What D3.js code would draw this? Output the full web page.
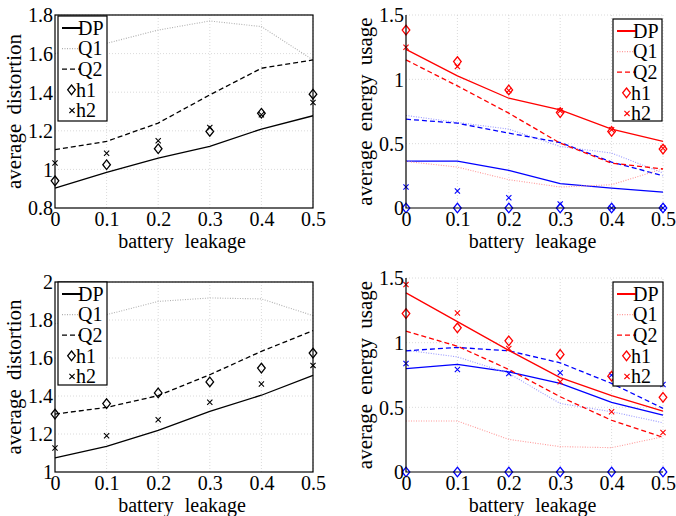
<!DOCTYPE html>
<html><head><meta charset="utf-8">
<script src="https://cdn.jsdelivr.net/npm/d3@7"></script>
<style>body{margin:0;background:#fff}svg{display:block}</style>
</head><body>
<script>
const leakage = [0, 0.1, 0.2, 0.3, 0.4, 0.5];
const xTicks = [0, 0.1, 0.2, 0.3, 0.4, 0.5];
const legendLabels = ["DP", "Q1", "Q2", "h1", "h2"];

// Panel A: average distortion (top)
const distA_DP = [0.903, 0.984, 1.059, 1.119, 1.209, 1.278];
const distA_Q1 = [1.60, 1.653, 1.722, 1.769, 1.740, 1.567];
const distA_Q2 = [1.102, 1.145, 1.240, 1.386, 1.524, 1.567];
const distA_h1 = [0.941, 1.024, 1.107, 1.197, 1.291, 1.390];
const distA_h2 = [1.033, 1.084, 1.148, 1.217, 1.283, 1.347];
const distA_ticks = [0.8, 1, 1.2, 1.4, 1.6, 1.8];

// Panel B: average energy usage (top)
const enB_red_DP = [1.233, 1.027, 0.853, 0.763, 0.613, 0.517];
const enB_red_Q1 = [0.362, 0.318, 0.220, 0.163, 0.181, 0.305];
const enB_red_Q2 = [1.151, 0.949, 0.737, 0.504, 0.349, 0.303];
const enB_red_h1 = [1.383, 1.138, 0.918, 0.742, 0.595, 0.458];
const enB_red_h2 = [1.249, 1.099, 0.913, 0.755, 0.608, 0.465];
const enB_blue_DP = [0.365, 0.365, 0.292, 0.189, 0.155, 0.124];
const enB_blue_Q1 = [0.719, 0.665, 0.613, 0.478, 0.427, 0.272];
const enB_blue_Q2 = [0.690, 0.659, 0.582, 0.509, 0.357, 0.251];
const enB_blue_h1 = [0, 0, 0, 0, 0, 0];
const enB_blue_h2 = [0.163, 0.132, 0.080, 0.031, 0, 0];
const energy_ticks = [0, 0.5, 1, 1.5];

// Panel C: average distortion (bottom)
const distC_DP = [1.074, 1.135, 1.219, 1.319, 1.404, 1.509];
const distC_Q1 = [1.78, 1.828, 1.898, 1.916, 1.911, 1.823];
const distC_Q2 = [1.305, 1.340, 1.402, 1.512, 1.635, 1.744];
const distC_h1 = [1.305, 1.360, 1.416, 1.474, 1.547, 1.626];
const distC_h2 = [1.126, 1.191, 1.275, 1.367, 1.463, 1.561];
const distC_ticks = [1, 1.2, 1.4, 1.6, 1.8, 2];

// Panel D: average energy usage (bottom)
const enD_red_DP = [1.385, 1.163, 0.940, 0.730, 0.590, 0.470];
const enD_red_Q1 = [0.394, 0.394, 0.252, 0.196, 0.188, 0.273];
const enD_red_Q2 = [1.089, 0.973, 0.793, 0.582, 0.400, 0.268];
const enD_red_h1 = [1.225, 1.115, 1.014, 0.909, 0.741, 0.577];
const enD_red_h2 = [1.449, 1.230, 0.955, 0.697, 0.466, 0.306];
const enD_blue_DP = [0.800, 0.832, 0.775, 0.685, 0.538, 0.440];
const enD_blue_Q1 = [0.942, 0.890, 0.762, 0.530, 0.466, 0.381];
const enD_blue_Q2 = [0.937, 0.963, 0.937, 0.844, 0.685, 0.492];
const enD_blue_h1 = [0, 0, 0, 0, 0, 0];
const enD_blue_h2 = [0.839, 0.793, 0.762, 0.767, 0.749, 0.677];

const FONT = "'Liberation Serif', 'Times New Roman', Times, serif";
const svg = d3.select("body").append("svg").attr("width", 676).attr("height", 516)
  .style("font-family", FONT);

const styles = {
  black: {solid: "#000", dotted: "#b0b0b0", dashed: "#000"},
  red: {solid: "#ff0000", dotted: "#ff9a9a", dashed: "#ff0000"},
  blue: {solid: "#0000ff", dotted: "#9a9aff", dashed: "#0000ff"}
};

function diamondPath(x, y) {
  const w = 3.8, h = 4.8;
  return `M${x},${y - h}L${x + w},${y}L${x},${y + h}L${x - w},${y}Z`;
}
function crossPath(x, y) {
  const s = 2.6;
  return `M${x - s},${y - s}L${x + s},${y + s}M${x - s},${y + s}L${x + s},${y - s}`;
}

function panel(cfg) {
  const g = svg.append("g");
  const x = d3.scaleLinear().domain([0, 0.5]).range([cfg.x0, cfg.x1]);
  const y = d3.scaleLinear().domain(cfg.yDomain).range([cfg.yBottom, cfg.yTop]);

  // grid
  g.selectAll(".gx").data(xTicks.slice(1)).enter().append("line")
    .attr("x1", d => x(d)).attr("x2", d => x(d)).attr("y1", y(cfg.yDomain[0])).attr("y2", cfg.gridTop)
    .attr("stroke", "#d0d0d0").attr("stroke-width", 0.8).attr("stroke-dasharray", "1,2");
  g.selectAll(".gy").data(cfg.yTicks.slice(1)).enter().append("line")
    .attr("x1", cfg.x0).attr("x2", cfg.x1).attr("y1", d => y(d)).attr("y2", d => y(d))
    .attr("stroke", "#d0d0d0").attr("stroke-width", 0.8).attr("stroke-dasharray", "1,2");

  // series
  const line = d3.line().x((d, i) => x(leakage[i])).y(d => y(d));
  cfg.series.forEach(s => {
    const col = styles[s.color];
    const sg = g.append("g");
    sg.append("path").datum(s.DP).attr("d", line).attr("fill", "none").attr("stroke", col.solid).attr("stroke-width", 1.3);
    sg.append("path").datum(s.Q1).attr("d", line).attr("fill", "none").attr("stroke", col.dotted).attr("stroke-width", 1.1).attr("stroke-dasharray", "1,1.5");
    sg.append("path").datum(s.Q2).attr("d", line).attr("fill", "none").attr("stroke", col.dashed).attr("stroke-width", 1.3).attr("stroke-dasharray", "5,3");
    sg.selectAll(".h1").data(s.h1).enter().append("path")
      .attr("d", (d, i) => diamondPath(x(leakage[i]), y(d))).attr("fill", "none").attr("stroke", col.solid).attr("stroke-width", 1.3);
    sg.selectAll(".h2").data(s.h2).enter().append("path")
      .attr("d", (d, i) => crossPath(x(leakage[i]), y(d))).attr("fill", "none").attr("stroke", col.solid).attr("stroke-width", 1.1);
  });

  // axes
  const ax = g.append("g").attr("transform", `translate(0,${cfg.yBottom})`)
    .call(d3.axisBottom(x).tickValues(xTicks).tickSize(0).tickPadding(0).tickFormat(d => d === 0 ? "0" : d3.format(".1f")(d)));
  ax.attr("font-family", null).style("font-family", FONT);
  ax.select(".domain").remove();
  ax.selectAll("text").attr("dy", null).attr("y", 18).attr("font-size", 20).attr("fill", "#000");
  if (cfg.box) {
    g.append("rect").attr("x", cfg.x0).attr("y", cfg.yTop).attr("width", cfg.x1 - cfg.x0).attr("height", cfg.yBottom - cfg.yTop)
      .attr("fill", "none").attr("stroke", "#000").attr("stroke-width", 1.2);
  } else {
    g.append("path").attr("d", `M${cfg.x0},${cfg.yTop}V${cfg.yBottom}H${cfg.x1}`).attr("fill", "none").attr("stroke", "#000").attr("stroke-width", 1.2);
  }
  const ay = g.append("g").attr("transform", `translate(${cfg.x0},0)`)
    .call(d3.axisLeft(y).tickValues(cfg.yTicks).tickSize(0).tickPadding(2).tickFormat(d => d3.format("")(d)));
  ay.attr("font-family", null).style("font-family", FONT);
  ay.select(".domain").remove();
  ay.selectAll("text").attr("dy", "0.34em").attr("font-size", 20).attr("fill", "#000");

  g.append("text").attr("x", (cfg.x0 + cfg.x1) / 2 - 2).attr("y", cfg.yBottom + 40)
    .attr("text-anchor", "middle").attr("font-size", 20).attr("word-spacing", 6).text("battery leakage");
  g.append("text").attr("transform", `translate(${cfg.ylabX},${(cfg.yTop + cfg.yBottom) / 2}) rotate(-90)`)
    .attr("text-anchor", "middle").attr("font-size", 21).attr("word-spacing", 4).text(cfg.ylabel);

  // legend
  const L = cfg.legend;
  const lg = g.append("g");
  lg.append("rect").attr("x", L.x).attr("y", L.y).attr("width", L.w).attr("height", L.h)
    .attr("fill", "#fff").attr("stroke", "#000").attr("stroke-width", 1.2);
  const col = styles[cfg.legendColor];
  legendLabels.forEach((lab, i) => {
    const ry = L.y + 12 + i * 20.6;
    const sx0 = L.x + 4, sx1 = L.x + 23;
    if (i === 0) lg.append("line").attr("x1", sx0).attr("x2", sx1).attr("y1", ry).attr("y2", ry).attr("stroke", col.solid).attr("stroke-width", 2);
    if (i === 1) lg.append("line").attr("x1", sx0).attr("x2", sx1).attr("y1", ry).attr("y2", ry).attr("stroke", col.dotted).attr("stroke-width", 1.1).attr("stroke-dasharray", "1,1.5");
    if (i === 2) lg.append("line").attr("x1", sx0).attr("x2", sx1).attr("y1", ry).attr("y2", ry).attr("stroke", col.dashed).attr("stroke-width", 1.3).attr("stroke-dasharray", "5,3");
    if (i === 3) lg.append("path").attr("d", diamondPath(L.x + 13.5, ry)).attr("fill", "none").attr("stroke", col.solid).attr("stroke-width", 1.3);
    if (i === 4) lg.append("path").attr("d", crossPath(L.x + 14, ry)).attr("fill", "none").attr("stroke", col.solid).attr("stroke-width", 1.1);
    lg.append("text").attr("x", i < 3 ? L.x + 20 : L.x + 18).attr("y", ry).attr("dy", "0.34em").attr("font-size", 20).text(lab);
  });
}

panel({x0: 55, x1: 313, yTop: 15, yBottom: 208, gridTop: 15, yDomain: [0.8, 1.8], yTicks: distA_ticks, box: true,
  ylabel: "average distortion", ylabX: 21, legendColor: "black",
  series: [{color: "black", DP: distA_DP, Q1: distA_Q1, Q2: distA_Q2, h1: distA_h1, h2: distA_h2}],
  legend: {x: 58, y: 16, w: 49, h: 105}});

panel({x0: 406, x1: 663, yTop: 15, yBottom: 208, gridTop: 15, yDomain: [0, 1.5], yTicks: energy_ticks, box: false,
  ylabel: "average energy usage", ylabX: 372, legendColor: "red",
  series: [
    {color: "blue", DP: enB_blue_DP, Q1: enB_blue_Q1, Q2: enB_blue_Q2, h1: enB_blue_h1, h2: enB_blue_h2},
    {color: "red", DP: enB_red_DP, Q1: enB_red_Q1, Q2: enB_red_Q2, h1: enB_red_h1, h2: enB_red_h2}],
  legend: {x: 613, y: 19, w: 49, h: 102}});

panel({x0: 55, x1: 313, yTop: 282, yBottom: 472, gridTop: 282, yDomain: [1, 2], yTicks: distC_ticks, box: true,
  ylabel: "average distortion", ylabX: 21, legendColor: "black",
  series: [{color: "black", DP: distC_DP, Q1: distC_Q1, Q2: distC_Q2, h1: distC_h1, h2: distC_h2}],
  legend: {x: 58, y: 282, w: 49, h: 103}});

panel({x0: 406, x1: 663, yTop: 278, yBottom: 472, gridTop: 278, yDomain: [0, 1.5], yTicks: energy_ticks, box: false,
  ylabel: "average energy usage", ylabX: 372, legendColor: "red",
  series: [
    {color: "blue", DP: enD_blue_DP, Q1: enD_blue_Q1, Q2: enD_blue_Q2, h1: enD_blue_h1, h2: enD_blue_h2},
    {color: "red", DP: enD_red_DP, Q1: enD_red_Q1, Q2: enD_red_Q2, h1: enD_red_h1, h2: enD_red_h2}],
  legend: {x: 613, y: 282, w: 50, h: 104}});
</script>
</body></html>
